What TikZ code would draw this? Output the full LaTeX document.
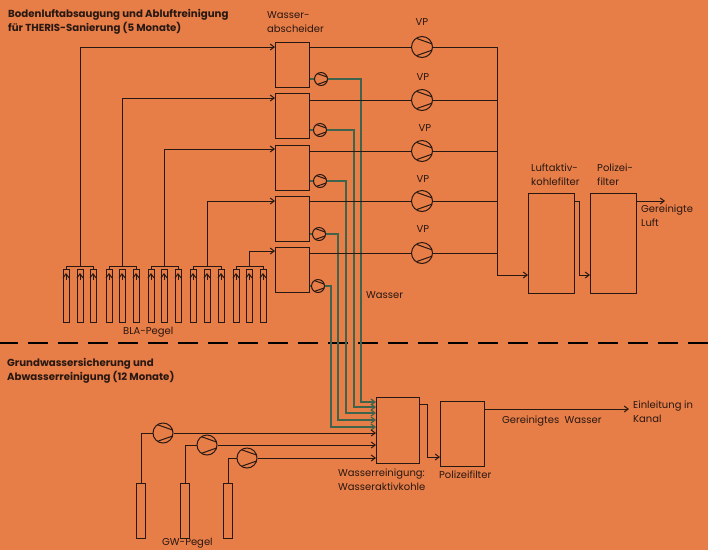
\documentclass[tikz,border=0pt]{standalone}
\usepackage{fontspec}
\setmainfont{Poppins}
\usepackage{tikz}
\usetikzlibrary{arrows.meta}
\usepackage{xcolor}

\definecolor{bgorange}{RGB}{231,125,71}
\definecolor{inkdark}{RGB}{40,24,18}
\definecolor{waterline}{RGB}{62,100,78}

\tikzset{
    line/.style={draw=inkdark, line width=1pt},
    tip/.style={-{Straight Barb[length=4pt,width=6pt]}},
    water/.style={draw=waterline, line width=1.2pt},
    unitbox/.style={line, rectangle, inner sep=0pt, anchor=north west},
    tube/.style={line, rectangle, inner sep=0pt, anchor=north},
    pump/.style={line, circle, inner sep=0pt, minimum size=2*#1 pt,
        path picture={
            \draw[line, shift={(path picture bounding box.center)}, x=#1pt, y=-#1pt]
                (-0.55,-0.83) -- (0.95,-0.3) (-0.55,0.83) -- (0.95,0.3);
        }},
    label/.style={text=inkdark, inner sep=0pt, anchor=west, align=left,
        font=\fontsize{10}{14}\selectfont},
    heading/.style={label, font=\fontsize{10.2}{14}\selectfont\bfseries},
}

\begin{document}
\begin{tikzpicture}[x=1pt, y=-1pt]

\fill[bgorange] (0,0) rectangle (708,550);
\useasboundingbox (0,0) rectangle (708,550);

\node[heading] (titleair) at (8,22) {Bodenluftabsaugung und Abluftreinigung\\für THERIS-Sanierung (5 Monate)};
\node[heading] (titlewater) at (7,371) {Grundwassersicherung und\\Abwasserreinigung (12 Monate)};

\draw[draw=black, line width=2pt, dash pattern=on 20pt off 10pt] (-2,343) -- (708,343);

\node[label] (lblsep) at (267,22) {Wasser-\\abscheider};
\node[label] (lblbla) at (123,332) {BLA-Pegel};
\node[label] (lblwater) at (366,295) {Wasser};
\node[label] (lblcarbon) at (531,175) {Luftaktiv-\\kohlefilter};
\node[label] (lblpolair) at (597,175) {Polizei-\\filter};
\node[label] (lblclean) at (641,216) {Gereinigte\\Luft};
\node[label] (lblwclean) at (338,480) {Wasserreinigung:\\Wasseraktivkohle};
\node[label] (lblpolwater) at (439,475) {Polizeifilter};
\node[label] (lblcleanw) at (502,421) {Gereinigtes\ \ Wasser};
\node[label] (lblkanal) at (633,412) {Einleitung in\\Kanal};
\node[label] (lblgw) at (162,543) {GW-Pegel};

\foreach \n/\top/\vpy/\lx/\ly in {1/42/47/422/22, 2/93/100/423/77, 3/145/151/425/128, 4/196/201/423/179, 5/247/253/423/229} {
    \node[unitbox, minimum width=34pt, minimum height=45pt] (sep\n) at (275,\top) {};
    \node[pump=10.5] (vp\n) at (422,\vpy) {};
    \node[label, anchor=center] (lblvp\n) at (\lx,\ly) {VP};
    \coordinate (bus\n) at (497,\vpy);
}

\node[unitbox, minimum width=46pt, minimum height=100pt] (carbon) at (528,193) {};
\node[unitbox, minimum width=46pt, minimum height=100pt] (polair) at (590,193) {};
\node[unitbox, minimum width=43pt, minimum height=66pt] (wclean) at (376,397) {};
\node[unitbox, minimum width=44pt, minimum height=65pt] (polwater) at (440,401) {};

% water lines go under the air lines
\foreach \n/\px/\py/\vx/\ey in {1/321/79/361/402, 2/320/130/354/407, 3/320/181/346/413, 4/319/234/338/420, 5/318/286/331/427} {
    \node[pump=6.5] (wp\n) at (\px,\py) {};
    \coordinate (wbend\n) at (\vx,\ey);
    \draw[water] (sep\n.east |- wp\n) -- (wp\n);
    \draw[water, tip] (wp\n) -| (wbend\n) -- (wclean.west |- wbend\n);
}

\foreach \n in {1,...,5} {
    \draw[line] (sep\n.east |- vp\n) -- (vp\n) -- (bus\n);
}

\coordinate (busend) at (497,275);
\draw[line, tip] (bus1) -- (busend) -- (carbon.west |- busend);

% the BLA wells, three in each group
\foreach \n/\xa/\xb/\xc/\iny in {1/66/80/93/47, 2/109/122/136/98, 3/151/164/178/149, 4/193/207/221/201, 5/236/249/263/251} {
    \node[tube, minimum width=6pt, minimum height=53pt] (bla\n a) at (\xa,269) {};
    \node[tube, minimum width=6pt, minimum height=53pt] (bla\n b) at (\xb,269) {};
    \node[tube, minimum width=6pt, minimum height=53pt] (bla\n c) at (\xc,269) {};
    \coordinate (head\n) at (\xb,266);
    \draw[line] (bla\n a.north) |- (head\n) -| (bla\n c.north);
    \foreach \t in {a,b,c} {
        \draw[line, tip] ([yshift=-11pt]bla\n\t.north) -- ([yshift=-4pt]bla\n\t.north);
    }
    \coordinate (inlet\n) at (275,\iny);
    \draw[line, tip] (head\n) |- (inlet\n);
}

\coordinate (carbonout) at (579,201);
\coordinate (polairin) at (579,275);
\draw[line, tip] (carbon.east |- carbonout) -- (carbonout) -- (polairin) -- (polair.west |- polairin);
\coordinate (airout) at (665,201);
\draw[line, tip] (polair.east |- airout) -- (airout);

% groundwater side
\foreach \n/\tx/\px/\py in {1/141/163/433, 2/185/207/445, 3/228/247/458} {
    \node[tube, minimum width=9pt, minimum height=55pt] (gw\n) at (\tx,483) {};
    \node[pump=10] (gp\n) at (\px,\py) {};
    \draw[line] (gw\n.north) |- (gp\n);
    \draw[line, tip] (gp\n) -- (wclean.west |- gp\n);
}

\coordinate (wcleanout) at (427,404);
\coordinate (polwaterin) at (427,457);
\draw[line, tip] (wclean.east |- wcleanout) -- (wcleanout) -- (polwaterin) -- (polwater.west |- polwaterin);
\coordinate (outfall) at (629,409);
\draw[line, tip] (polwater.east |- outfall) -- (outfall);

\end{tikzpicture}
\end{document}
